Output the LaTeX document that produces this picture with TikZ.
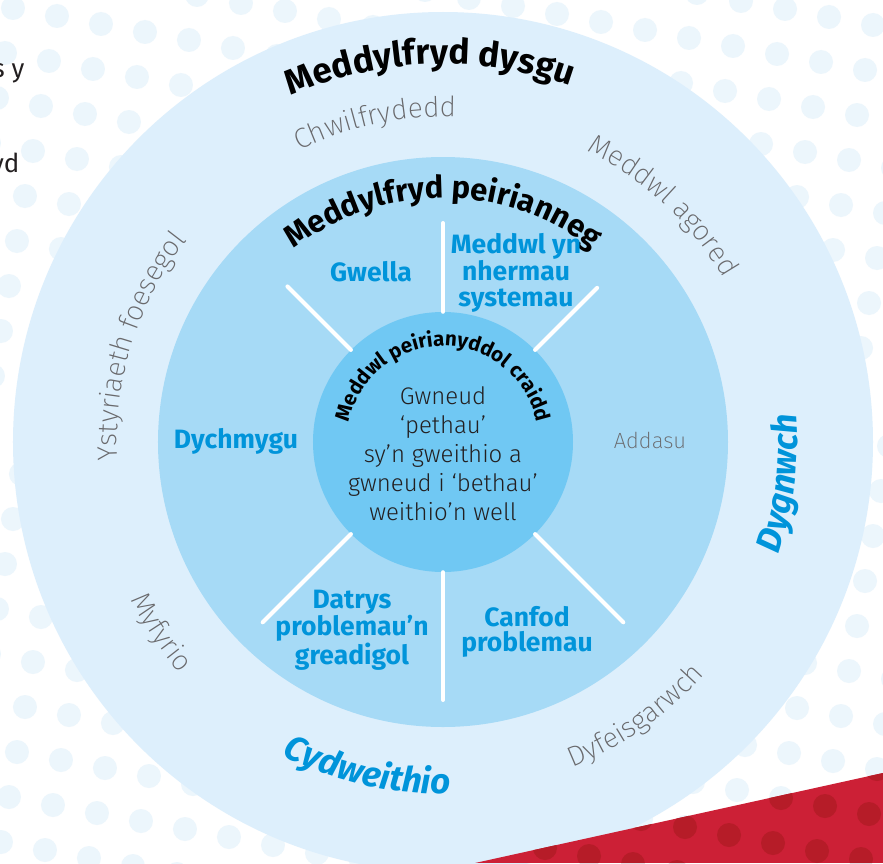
\documentclass[tikz,border=0pt]{standalone}
\usepackage{fontspec}
\setmainfont{Fira Sans}
\newfontfamily\thinfont{Fira Sans Light}
\newfontfamily\hairfont{Fira Sans ExtraLight}
\usetikzlibrary{decorations.text}
\definecolor{ringout}{RGB}{221,239,252}
\definecolor{ringmid}{RGB}{166,218,246}
\definecolor{ringcore}{RGB}{112,200,243}
\definecolor{skillblue}{RGB}{0,148,218}
\definecolor{greytext}{RGB}{105,105,108}
\definecolor{inkblack}{RGB}{35,31,32}
\definecolor{dotblue}{RGB}{236,246,252}
\definecolor{bandred}{RGB}{204,32,54}
\definecolor{dotred}{RGB}{182,28,40}
\newcommand\headfont{\bfseries\fontsize{35}{35}\selectfont}
\newcommand\subheadfont{\bfseries\fontsize{31}{31}\selectfont}
\newcommand\corefont{\bfseries\fontsize{20.5}{20.5}\selectfont}
\newcommand\traitfont{\hairfont\fontsize{28}{28}\selectfont\color{greytext}}
\newcommand\habitfont{\bfseries\itshape\fontsize{35}{35}\selectfont\color{skillblue}}
\tikzstyle{ring}=[circle,inner sep=0pt]
\tikzstyle{spoke}=[draw=white,line width=4pt,line cap=round]
\tikzstyle{skill}=[text=skillblue,font=\bfseries\fontsize{26.5}{25.5}\selectfont,align=center]
\tikzstyle{trait}=[text=greytext,font=\hairfont\fontsize{22}{22}\selectfont]
\tikzstyle{coretext}=[text=inkblack,font=\thinfont\fontsize{24}{29}\selectfont,align=center]
\tikzstyle{margin}=[text=inkblack,font=\fontsize{26}{26}\selectfont,anchor=base east]
\tikzstyle{arctext}=[decorate,decoration={text along path,text align=center}]

\begin{document}
\begin{tikzpicture}[x=1pt,y=1pt]
  \useasboundingbox (-443,-421) rectangle (440,442);
  \fill[white] (-443,-421) rectangle (440,442);
  \foreach \i in {-2,...,26}
    \foreach \j in {-5,...,20}
      \fill[dotblue] (-430+44*\i-8*\j,434-8*\i-45*\j) circle[radius=12pt];

  \node[margin] at (-415,364) (t1) {s y};
  \node[margin] at (-420,270) (t2) {yd};

  \node[ring,fill=ringout,minimum size=860pt] at (0,0) (outer) {};
  \node[ring,fill=ringmid,minimum size=570pt] at (0,0) (middle) {};
  \node[ring,fill=ringcore,minimum size=260pt] at (0,0) (core) {};

  \coordinate (sn) at (90:219pt);
  \coordinate (sne) at (45:218pt);
  \coordinate (snw) at (135:220pt);
  \coordinate (ss) at (-90:258pt);
  \coordinate (sse) at (-45:255pt);
  \coordinate (ssw) at (-135:255pt);
  \draw[spoke] (core.90)--(sn);
  \draw[spoke] (core.45)--(sne);
  \draw[spoke] (core.135)--(snw);
  \draw[spoke] (core.-90)--(ss);
  \draw[spoke] (core.-45)--(sse);
  \draw[spoke] (core.-135)--(ssw);

  \path[arctext,decoration={text={|\headfont|Meddylfryd dysgu}}]
    (182:378pt) arc[start angle=182,end angle=2,radius=378pt];
  \path[arctext,decoration={text={|\subheadfont|Meddylfryd peirianneg}}]
    (180:244pt) arc[start angle=180,end angle=0,radius=244pt];
  \path[arctext,decoration={text={|\corefont|Meddwl peirianyddol craidd}}]
    (180:96pt) arc[start angle=180,end angle=0,radius=96pt];

  \path[arctext,decoration={text={|\traitfont|Chwilfrydedd}}]
    (152:325pt) arc[start angle=152,end angle=52,radius=325pt];
  \path[arctext,decoration={text={|\traitfont|Meddwl agored}}]
    (97:325pt) arc[start angle=97,end angle=-3,radius=325pt];
  \path[arctext,decoration={text={|\traitfont|Ystyriaeth foesegol}}]
    (212.5:326pt) arc[start angle=212.5,end angle=112.5,radius=326pt];
  \path[arctext,decoration={text={|\traitfont|Myfyrio}}]
    (184:350pt) arc[start angle=184,end angle=244,radius=350pt];
  \path[arctext,decoration={text={|\traitfont|Dyfeisgarwch}}]
    (-85:350pt) arc[start angle=-85,end angle=-25,radius=350pt];

  \path[arctext,decoration={text={|\habitfont|Cydweithio}}]
    (227:352pt) arc[start angle=227,end angle=287,radius=352pt];
  \path[arctext,decoration={text={|\habitfont|Dygnwch}}]
    (-37:354pt) arc[start angle=-37,end angle=23,radius=354pt];

  \node[skill] at (-72,170) (gwella) {Gwella};
  \node[skill] at (73,169) (systemau) {Meddwl yn\\nhermau\\systemau};
  \node[skill] at (-207,1) (dychmygu) {Dychmygu};
  \node[skill] at (-91,-188) (datrys) {Datrys\\problemau’n\\greadigol};
  \node[skill] at (84,-190) (canfod) {Canfod\\problemau};
  \node[trait] at (207,2) (addasu) {Addasu};

  \node[coretext] at (0,-12) (motto) {Gwneud\\‘pethau’\\sy’n gweithio a\\gwneud i ‘bethau’\\weithio’n well};

  \begin{scope}
    \clip (32,-421)--(440,-331)--(440,-421)--cycle;
    \fill[bandred] (32,-421) rectangle (440,-331);
    \foreach \i in {-2,...,26}
      \foreach \j in {10,...,20}
        \fill[dotred] (-430+44*\i-8*\j,434-8*\i-45*\j) circle[radius=12pt];
  \end{scope}
\end{tikzpicture}
\end{document}
